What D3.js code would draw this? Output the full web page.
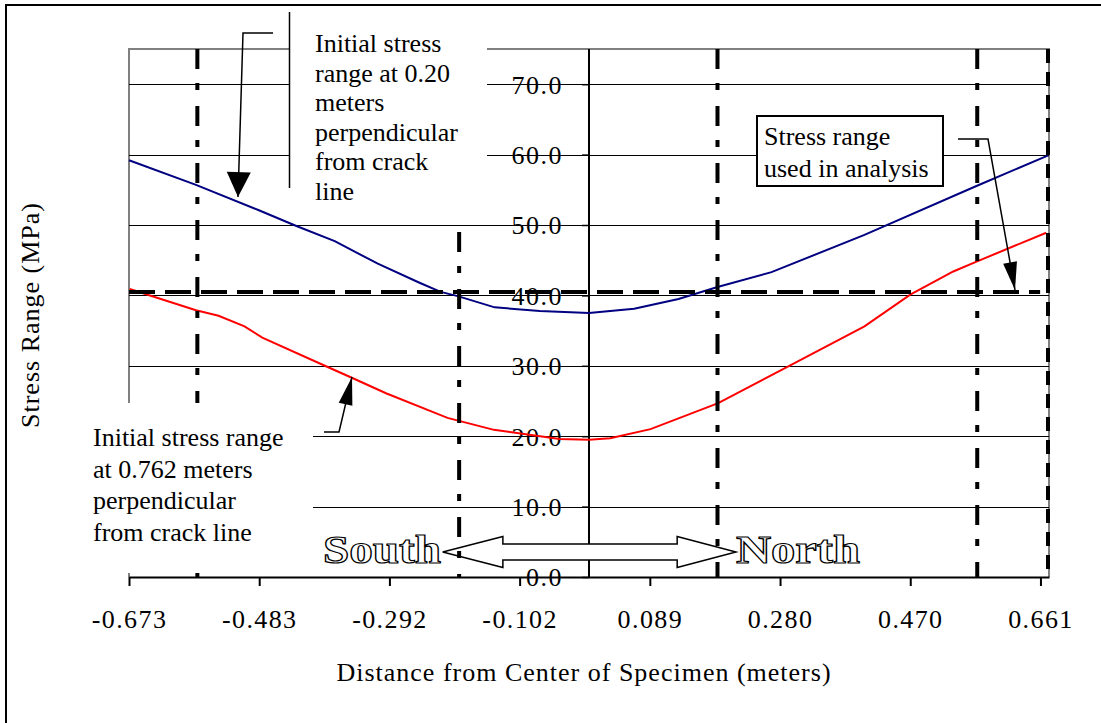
<!DOCTYPE html>
<html>
<head>
<meta charset="utf-8">
<script src="https://cdn.jsdelivr.net/npm/d3@7"></script>
<style>
  body { margin: 0; background: #fff; }
  text { font-family: "Liberation Serif", "Times New Roman", "DejaVu Serif", serif; }
</style>
</head>
<body>
<div id="chart"></div>
<script>
const width = 1101;
const height = 723;

// x ticks (Excel style, every 0.1905 m)
const xTicks = [-0.673, -0.4825, -0.292, -0.1015, 0.089, 0.2795, 0.470, 0.6605];
const xTickLabels = ["-0.673", "-0.483", "-0.292", "-0.102", "0.089", "0.280", "0.470", "0.661"];
const yTicks = [0, 10, 20, 30, 40, 50, 60, 70];
const yTickLabels = ["0.0", "10.0", "20.0", "30.0", "40.0", "50.0", "60.0", "70.0"];

// stress 0.20 m from crack line (blue)
const distBlue = [-0.673, -0.575, -0.483, -0.429, -0.372, -0.309, -0.248, -0.217, -0.192, -0.138, -0.072, 0.0, 0.066, 0.131, 0.188, 0.267, 0.403, 0.566, 0.672];
const stressBlue = [59.2, 55.7, 52.1, 49.9, 47.7, 44.5, 41.8, 40.5, 39.9, 38.3, 37.8, 37.5, 38.1, 39.5, 41.2, 43.3, 48.6, 55.5, 59.9];

// stress 0.762 m from crack line (red)
const distRed = [-0.672, -0.575, -0.542, -0.504, -0.478, -0.384, -0.347, -0.297, -0.207, -0.139, -0.043, 0.0, 0.031, 0.090, 0.189, 0.293, 0.403, 0.470, 0.533, 0.567, 0.669];
const stressRed = [40.9, 37.9, 37.1, 35.6, 34.0, 29.9, 28.3, 26.1, 22.6, 20.9, 19.6, 19.5, 19.7, 21.0, 24.7, 30.0, 35.6, 40.1, 43.4, 44.8, 48.9];

const analysisStress = 40.5;
const gaugeLines = [-0.573, -0.19, 0.188, 0.568];
const gaugeTop = [75, 49, 75, 75];
const edgeLine = 0.673;

const x = d3.scaleLinear().domain([-0.673, 0.673]).range([129, 1049]);
const y = d3.scaleLinear().domain([0, 75]).range([577, 49]);

const svg = d3.select("#chart").append("svg")
    .attr("width", width)
    .attr("height", height);

svg.append("rect").attr("width", width).attr("height", height).attr("fill", "#fff");
// outer frame
svg.append("rect").attr("x", 6).attr("y", 5).attr("width", 1200).attr("height", 800)
    .attr("fill", "none").attr("stroke", "#000").attr("stroke-width", 2);

// gray plot border (top, left, right)
svg.append("path")
    .attr("d", `M${x(-0.673)},${y(0)}V${y(75)}H${x(0.673)}V${y(0)}`)
    .attr("fill", "none").attr("stroke", "#808080").attr("stroke-width", 2);

// gridlines
svg.append("g").selectAll("line")
    .data(yTicks.slice(1))
    .join("line")
    .attr("x1", x(-0.673)).attr("x2", x(0.673))
    .attr("y1", d => Math.round(y(d)) + 0.5).attr("y2", d => Math.round(y(d)) + 0.5)
    .attr("stroke", "#000").attr("stroke-width", 1);

// y axis at x = 0
const yAxis = svg.append("g")
    .attr("transform", `translate(${x(0)},0)`)
    .call(d3.axisLeft(y).tickValues(yTicks).tickFormat((d, i) => yTickLabels[i]).tickSize(7).tickSizeOuter(0));
yAxis.select(".domain").attr("stroke-width", 2).attr("d", `M0,${y(0)}V${y(75)}`);
yAxis.selectAll(".tick line").attr("stroke-width", 1.5);
yAxis.selectAll(".tick text")
    .attr("x", -26).attr("dy", "0.34em")
    .attr("font-family", "Liberation Serif").attr("font-size", 26)
    .style("letter-spacing", "1.5px").attr("fill", "#000");

// x axis
const xAxis = svg.append("g")
    .attr("transform", `translate(0,${y(0)})`)
    .call(d3.axisBottom(x).tickValues(xTicks).tickFormat((d, i) => xTickLabels[i]).tickSize(9).tickSizeOuter(0));
xAxis.select(".domain").attr("stroke-width", 2);
xAxis.selectAll(".tick line").attr("stroke-width", 2);
xAxis.selectAll(".tick text")
    .attr("y", 51).attr("dy", 0)
    .attr("font-family", "Liberation Serif").attr("font-size", 26)
    .style("letter-spacing", "1.4px").attr("fill", "#000");

// curves
const line = d3.line().x(d => x(d[0])).y(d => y(d[1]));
svg.append("path")
    .datum(distBlue.map((d, i) => [d, stressBlue[i]]))
    .attr("d", line).attr("fill", "none").attr("stroke", "#000080").attr("stroke-width", 2);
svg.append("path")
    .datum(distRed.map((d, i) => [d, stressRed[i]]))
    .attr("d", line).attr("fill", "none").attr("stroke", "#ff0000").attr("stroke-width", 2);

// stress range used in analysis
svg.append("line")
    .attr("x1", x(-0.673)).attr("x2", x(0.66))
    .attr("y1", y(analysisStress)).attr("y2", y(analysisStress))
    .attr("stroke", "#000").attr("stroke-width", 4).attr("stroke-dasharray", "26,10");

// South / North block arrow
const ac = 3.55, ah = 2.2, as = 1.14;
const arrowPts = [
    [-0.214, ac], [-0.126, ac + ah], [-0.126, ac + as], [0.129, ac + as], [0.129, ac + ah],
    [0.215, ac], [0.129, ac - ah], [0.129, ac - as], [-0.126, ac - as], [-0.126, ac - ah]
];
svg.append("polygon")
    .attr("points", arrowPts.map(p => [x(p[0]), y(p[1])].join(",")).join(" "))
    .attr("fill", "#fff").attr("stroke", "#000").attr("stroke-width", 1.5);

// gauge lines (dash-dot) and edge line
svg.append("g").selectAll("line")
    .data(gaugeLines)
    .join("line")
    .attr("x1", d => x(d)).attr("x2", d => x(d))
    .attr("y1", (d, i) => y(gaugeTop[i])).attr("y2", y(0))
    .attr("stroke", "#000").attr("stroke-width", 4).attr("stroke-dasharray", "20,14,7,16");
svg.append("line")
    .attr("x1", x(edgeLine) - 1).attr("x2", x(edgeLine) - 1)
    .attr("y1", y(75)).attr("y2", y(0))
    .attr("stroke", "#000").attr("stroke-width", 4).attr("stroke-dasharray", "14,9");

// annotation boxes
svg.append("rect").attr("x", 289).attr("y", 12).attr("width", 198).attr("height", 176).attr("fill", "#fff");
svg.append("line").attr("x1", 289.5).attr("x2", 289.5).attr("y1", 12).attr("y2", 188)
    .attr("stroke", "#000").attr("stroke-width", 1.5);
svg.append("rect").attr("x", 80).attr("y", 403).attr("width", 233).attr("height", 170).attr("fill", "#fff");

const note1 = ["Initial stress", "range at 0.20", "meters", "perpendicular", "from crack", "line"];
svg.append("g").selectAll("text")
    .data(note1).join("text")
    .attr("x", 315).attr("y", (d, i) => 52 + i * 29.6)
    .attr("font-size", 26).text(d => d);

const note2 = ["Initial stress range", "at 0.762 meters", "perpendicular", "from crack line"];
svg.append("g").selectAll("text")
    .data(note2).join("text")
    .attr("x", 93).attr("y", (d, i) => 446 + i * 31.5)
    .attr("font-size", 26).text(d => d);

// legend box
svg.append("rect").attr("x", 757).attr("y", 116).attr("width", 186).attr("height", 70)
    .attr("fill", "#fff").attr("stroke", "#000").attr("stroke-width", 2);
svg.append("g").selectAll("text")
    .data(["Stress range", "used in analysis"]).join("text")
    .attr("x", 764).attr("y", (d, i) => 145 + i * 32)
    .attr("font-size", 26).text(d => d);

// leader lines with arrowheads
function leader(pts, L, w) {
    svg.append("polyline")
        .attr("points", pts.map(p => p.join(",")).join(" "))
        .attr("fill", "none").attr("stroke", "#000").attr("stroke-width", 1.5);
    const a = pts[pts.length - 2], b = pts[pts.length - 1];
    const dx = b[0] - a[0], dy = b[1] - a[1], len = Math.hypot(dx, dy);
    const ux = dx / len, uy = dy / len;
    const bx = b[0] - ux * L, by = b[1] - uy * L;
    svg.append("polygon")
        .attr("points", [[b[0], b[1]], [bx - uy * w, by + ux * w], [bx + uy * w, by - ux * w]].map(p => p.join(",")).join(" "))
        .attr("fill", "#000");
}
leader([[273, 33], [243, 33], [238, 197]], 25, 12);
leader([[324, 432], [339, 432], [352, 377]], 28, 7);
leader([[958, 139], [988, 139], [1015, 290]], 28, 7);

// South / North labels
svg.append("text").attr("x", 323).attr("y", 563)
    .attr("font-size", 40).attr("font-weight", "bold")
    .attr("textLength", 118).attr("lengthAdjust", "spacingAndGlyphs")
    .attr("fill", "#fff").attr("stroke", "#000").attr("stroke-width", 1.2)
    .text("South");
svg.append("text").attr("x", 736).attr("y", 563)
    .attr("font-size", 40).attr("font-weight", "bold")
    .attr("textLength", 124).attr("lengthAdjust", "spacingAndGlyphs")
    .attr("fill", "#fff").attr("stroke", "#000").attr("stroke-width", 1.2)
    .text("North");

// axis titles
svg.append("text")
    .attr("x", 584).attr("y", 681)
    .attr("text-anchor", "middle").attr("font-size", 26)
    .style("letter-spacing", "1px")
    .text("Distance from Center of Specimen (meters)");
svg.append("text")
    .attr("transform", "translate(39,315) rotate(-90)")
    .attr("text-anchor", "middle").attr("font-size", 26)
    .style("letter-spacing", "1px")
    .text("Stress Range (MPa)");
</script>
</body>
</html>
